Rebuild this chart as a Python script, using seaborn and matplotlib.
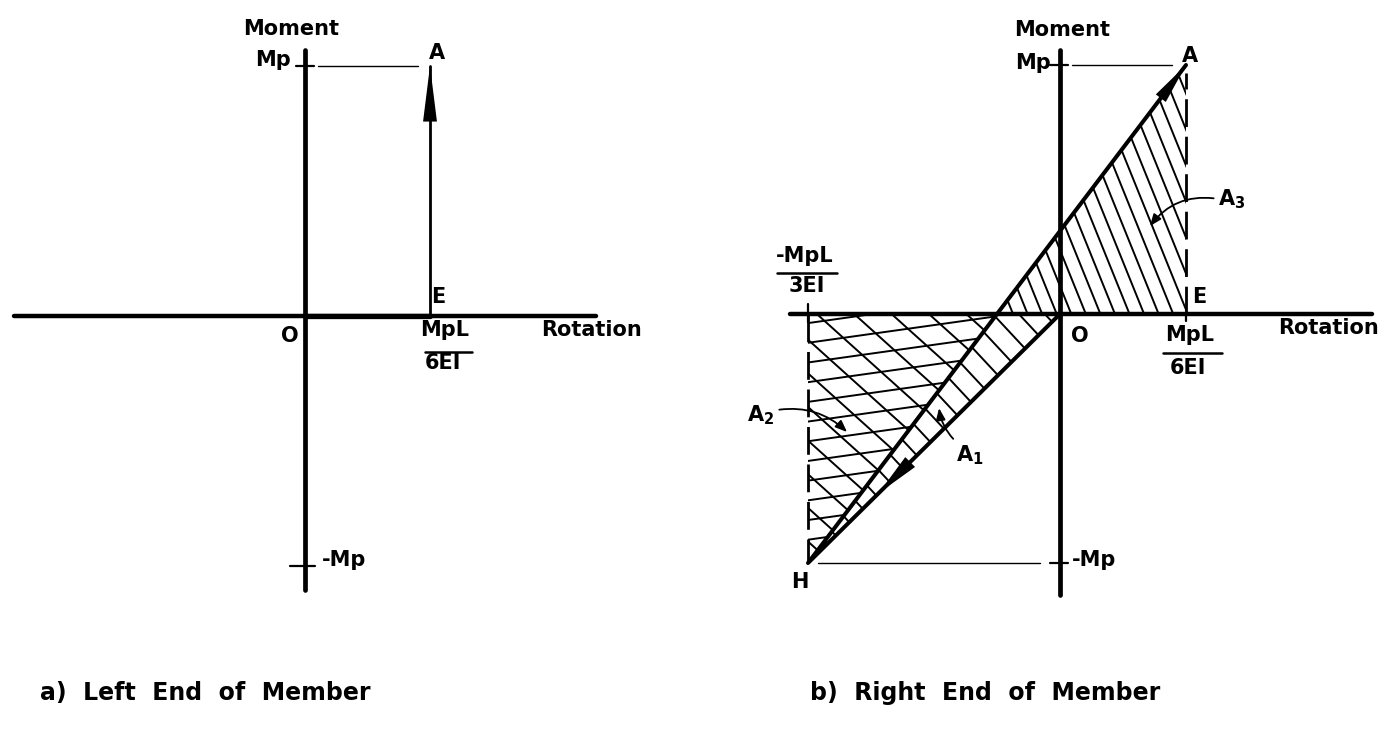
import numpy as np
import matplotlib
matplotlib.use("Agg")
import matplotlib.pyplot as plt
from matplotlib.patches import Polygon
import seaborn as sns

# Key points of the moment-rotation diagrams
# rotation in units of MpL/6EI, moment in units of Mp
point_names = ["O", "E", "A", "H"]
point_rotation = [0.0, 1.0, 1.0, -2.0]
point_moment = [0.0, 0.0, 1.0, -1.0]

left_path = ["O", "E", "A"]      # left end: elastic to E, then up to A
right_path = ["O", "H", "A"]     # right end: down to H, then back up to A

axis_ticks = ["Mp", "-Mp"]
caption_left = "a)  Left  End  of  Member"
caption_right = "b)  Right  End  of  Member"

P = {n: (r, m) for n, r, m in zip(point_names, point_rotation, point_moment)}

W, H = 1394, 735
sns.set_theme(style="white")
plt.rcParams["font.family"] = ["DejaVu Sans"]
plt.rcParams["font.weight"] = "bold"
plt.rcParams["text.color"] = "black"
plt.rcParams["mathtext.fontset"] = "dejavusans"

fig = plt.figure(figsize=(W / 100, H / 100), dpi=100)
fig.patch.set_facecolor("white")

scale = {}


def make_panel(x0, x1, ox, oy, ux, uy):
    ax = fig.add_axes([x0 / W, 0, (x1 - x0) / W, 1])
    ax.set_xlim((x0 - ox) / ux, (x1 - ox) / ux)
    ax.set_ylim((oy - H) / uy, oy / uy)
    ax.axis("off")
    scale[ax] = (ux, uy)
    return ax


def off(ax, xy, dx, dy):
    ux, uy = scale[ax]
    return (xy[0] + dx / ux, xy[1] + dy / uy)


def seg(ax, a, b, **kw):
    kw.setdefault("color", "black")
    ax.plot([a[0], b[0]], [a[1], b[1]], clip_on=False, **kw)


def hatch(ax, verts, angle, spacing, lw=1.4, phase=0.0):
    verts = np.asarray(verts, float)
    patch = Polygon(verts, closed=True, fill=False, edgecolor="none")
    ax.add_patch(patch)
    disp = ax.transData.transform(verts)
    c = disp.mean(axis=0)
    R = np.hypot(*(disp - c).T).max() + spacing
    a = np.deg2rad(angle)
    d = np.array([np.cos(a), np.sin(a)])
    n = np.array([-np.sin(a), np.cos(a)])
    inv = ax.transData.inverted()
    for k in np.arange(-R, R + spacing, spacing) + phase:
        q = inv.transform(np.vstack([c + n * k - d * R, c + n * k + d * R]))
        ln, = ax.plot(q[:, 0], q[:, 1], color="black", lw=lw, solid_capstyle="butt")
        ln.set_clip_path(patch)


def label(ax, xy, text, dx, dy, size=15, ha="center", va="center"):
    ax.text(*off(ax, xy, dx, dy), text, fontsize=size, ha=ha, va=va, color="black")


def fraction(ax, xy, num, den, dxn, dyn, dxd, dyd, bar, size=15):
    label(ax, xy, num, dxn, dyn, size)
    label(ax, xy, den, dxd, dyd, size)
    seg(ax, off(ax, xy, bar[0], bar[2]), off(ax, xy, bar[1], bar[2]), lw=1.8)


def head(ax, tip, base, length, width, lw=0):
    ax.annotate("", xy=tip, xytext=base,
                arrowprops=dict(arrowstyle=f"-|>,head_length={length},head_width={width}",
                                mutation_scale=10, lw=lw, color="black", fc="black",
                                shrinkA=0, shrinkB=0))


def draw_axes(ax, xlo, xhi, ylo, yhi):
    seg(ax, (xlo, 0), (xhi, 0), lw=3.2, solid_capstyle="round")
    seg(ax, (0, ylo), (0, yhi), lw=3.4, solid_capstyle="round")


def lerp(a, b, t):
    return (a[0] + (b[0] - a[0]) * t, a[1] + (b[1] - a[1]) * t)


# ---------------- a) left end ----------------
axL = make_panel(0, 697, 305, 316, 125, 250)
draw_axes(axL, (14 - 305) / 125, (596 - 305) / 125, (316 - 590) / 250, (316 - 50) / 250)

O, E, A = P["O"], P["E"], P["A"]
seg(axL, O, E, lw=3.8)
sns.lineplot(x=[P[n][0] for n in left_path[1:]], y=[P[n][1] for n in left_path[1:]],
             sort=False, estimator=None, color="black", linewidth=2.0, ax=axL)
head(axL, A, E, 4.0, 0.5)

# reference line at Mp and axis ticks
seg(axL, off(axL, (0, A[1]), 13, 0), off(axL, A, -12, 0), lw=1.0)
seg(axL, off(axL, (0, 1), -9, 0), off(axL, (0, 1), 9, 0), lw=1.6)
seg(axL, off(axL, (0, -1), -15, 0), off(axL, (0, -1), 10, 0), lw=1.6)

label(axL, (0, 1), "Moment", -14, 37)
label(axL, (0, 1), axis_ticks[0], -14, 6, ha="right")
label(axL, (0, -1), axis_ticks[1], 17, 6, ha="left")
label(axL, A, "A", 7, 13)
label(axL, E, "E", 8, 19)
label(axL, O, "O", -15, -20)
label(axL, O, "Rotation", 236, -14, ha="left")
fraction(axL, E, "MpL", "6EI", 15, -14, 13, -47, (-5, 42, -36))

# ---------------- b) right end ----------------
axR = make_panel(697, 1394, 1060, 314, 126, 249)
Hp = P["H"]
# zero-moment crossing of the reloading line H -> A
tC = Hp[0] + (0 - Hp[1]) * (A[0] - Hp[0]) / (A[1] - Hp[1])
C = (tC, 0.0)

hatch(axR, [C, E, A], -68, 13.5, phase=4)
hatch(axR, [C, O, Hp], -47, 19, phase=2)
hatch(axR, [(Hp[0], 0), C, Hp], 8, 19.5, phase=6)
hatch(axR, [(Hp[0], 0), C, Hp], -42, 25, phase=3)

draw_axes(axR, (790 - 1060) / 126, (1372 - 1060) / 126, (314 - 595) / 249, (314 - 50) / 249)

sns.lineplot(x=[P[n][0] for n in right_path], y=[P[n][1] for n in right_path],
             sort=False, estimator=None, color="black", linewidth=2.9, ax=axR)
head(axR, A, lerp(Hp, A, 0.88), 3.0, 0.45)
head(axR, lerp(O, Hp, 0.72), lerp(O, Hp, 0.53), 3.2, 0.5)

dash = (0, (10, 3.5))
seg(axR, E, off(axR, A, 0, -8), lw=2.0, ls=dash)
seg(axR, (Hp[0], 0), Hp, lw=2.0, ls=dash)

seg(axR, off(axR, (0, A[1]), 12, 0), off(axR, A, -14, 0), lw=1.0)
seg(axR, off(axR, Hp, 10, 0), off(axR, (0, Hp[1]), -20, 0), lw=1.0)
seg(axR, off(axR, (0, 1), -10, 0), off(axR, (0, 1), 8, 0), lw=1.6)
seg(axR, off(axR, (0, -1), -10, 0), off(axR, (0, -1), 8, 0), lw=1.6)
seg(axR, off(axR, (Hp[0], 0), 0, -8), off(axR, (Hp[0], 0), 0, 10), lw=1.6)
seg(axR, E, off(axR, E, 0, -7), lw=1.6)

label(axR, (0, 1), "Moment", 2, 35)
label(axR, (0, 1), axis_ticks[0], -9, 2, ha="right")
label(axR, (0, -1), axis_ticks[1], 12, 3, ha="left")
label(axR, A, "A", 4, 9)
label(axR, E, "E", 13, 17)
label(axR, O, "O", 20, -22)
label(axR, Hp, "H", -8, -19)
label(axR, O, "Rotation", 218, -14, ha="left")
fraction(axR, E, "MpL", "6EI", 4, -21, 2, -54, (-23, 36, -39))
fraction(axR, (Hp[0], 0), "-MpL", "3EI", -3, 58, -1, 28, (-31, 29, 41))

leader = dict(arrowstyle="-|>,head_length=0.5,head_width=0.2", mutation_scale=14,
              lw=1.3, color="black", shrinkA=1, shrinkB=0)
axR.annotate(r"$\mathbf{A}_\mathbf{3}$", xy=(0.714, 0.353), xytext=(1.365, 0.462),
             fontsize=15, ha="center", va="center",
             arrowprops=dict(connectionstyle="arc3,rad=0.3", relpos=(0, 0.5), **leader))
axR.annotate(r"$\mathbf{A}_\mathbf{2}$", xy=(-1.69, -0.474), xytext=(-2.373, -0.406),
             fontsize=15, ha="center", va="center",
             arrowprops=dict(connectionstyle="arc3,rad=-0.25", relpos=(1, 0.7), **leader))
axR.annotate(r"$\mathbf{A}_\mathbf{1}$", xy=(-0.96, -0.378), xytext=(-0.714, -0.566),
             fontsize=15, ha="center", va="center",
             arrowprops=dict(connectionstyle="arc3,rad=-0.2", relpos=(0.15, 0.9), **leader))

# captions
fig.text(40 / W, 1 - 700 / H, caption_left, fontsize=17, ha="left", va="baseline")
fig.text(810 / W, 1 - 700 / H, caption_right, fontsize=17, ha="left", va="baseline")

fig.savefig("out.png", dpi=100, facecolor="white")
